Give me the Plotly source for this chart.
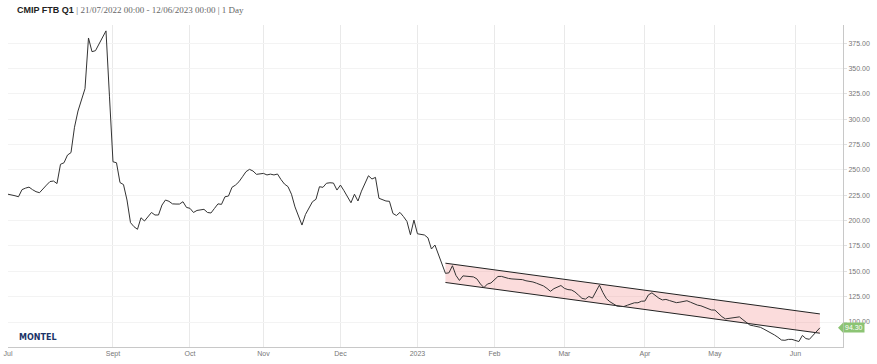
import pandas as pd
import plotly.graph_objects as go

# ---- data -------------------------------------------------------------
start_date = "2022-07-21"
end_date = "2023-06-12"

prices = [
    226, 225.5, 224.5, 223.5, 230.5, 232, 233, 230.5, 228.5, 227.5,
    231.8, 235, 238.5, 239, 236.5, 255.5, 257, 264.6, 267, 292,
    308, 320, 330, 380, 366.5, 367.5, 374, 381, 387, 322,
    258, 257, 237.5, 235.5, 220.3, 198, 194, 191.4, 202.8, 199.6,
    204, 208, 205.5, 205.5, 215.3, 220.3, 219, 216.5, 216.3, 216.3,
    218.6, 213, 212.1, 208, 210, 210.8, 211.1, 208, 207.5, 212,
    216.5, 216, 223.5, 224.2, 232.8, 235, 238.3, 243.2, 248.2, 250.5,
    248.9, 245.6, 245.8, 246.5, 245, 245.8, 245, 245.9, 240.5, 236,
    233.5, 226, 213.5, 204, 195.6, 206, 212.5, 218.6, 221, 233.4,
    232.8, 236.8, 237.3, 237, 230.1, 235, 229.5, 223.5, 217.6, 226,
    219.3, 229, 237, 244.2, 241, 242.6, 222, 220.5, 219.3, 219,
    207, 205, 208.1, 204, 199.2, 186, 200.5, 187, 186.5, 185.8,
    183, 172, 175.9, 167, 158, 148, 148.5, 155.5, 146, 141,
    145.5, 145, 144.3, 144.5, 142.5, 137.5, 134, 137.5, 138.5, 141.5,
    144.9, 145, 143.7, 143, 142.5, 142.4, 142.4, 141.8, 140.7, 140.2,
    139.5, 138.3, 137, 135.6, 133.2, 130.3, 132.9, 134.6, 136, 133.2,
    132, 131.6, 129.7, 126.6, 123.4, 122.6, 125.2, 123.6, 130.5, 136.4,
    129, 123, 120, 117.8, 115.8, 115.4, 115.3, 116.6, 118, 119,
    119, 120.5, 120.7, 126.8, 128.8, 126, 123.5, 121.8, 122.3, 121.2,
    119.8, 119.1, 119.6, 120.3, 121, 119.6, 118, 116.7, 116, 114.6,
    113.2, 111.9, 111.8, 108.3, 105.3, 103.1, 103.5, 104.1, 104.7, 105.1,
    102.3, 99.2, 97, 96.3, 95.6, 94.8, 93, 91.2, 89.5, 87.3,
    85, 82.3, 82, 82.9, 82.9, 82.2, 80.8, 86.8, 83.7, 83,
    86.5, 90.5, 94.3,
]
last_price = 94.30

channel_start = "2023-01-12"
channel_upper = [158, 108]
channel_lower = [139, 89]

tick_dates = ["2022-07-21", "2022-09-01", "2022-10-03", "2022-11-01", "2022-12-01",
              "2023-01-02", "2023-02-01", "2023-03-01", "2023-04-03", "2023-05-01",
              "2023-06-01"]
tick_labels = ["Jul", "Sept", "Oct", "Nov", "Dec", "2023", "Feb", "Mar", "Apr", "May", "Jun"]

y_ticks = [100, 125, 150, 175, 200, 225, 250, 275, 300, 325, 350, 375]

title_main = "CMIP FTB Q1"
title_rest = "21/07/2022 00:00 - 12/06/2023 00:00 | 1 Day"

# ---- figure -----------------------------------------------------------
dates = pd.bdate_range(start_date, end_date)[:len(prices)]
channel_dates = [pd.Timestamp(channel_start), dates[-1]]

fig = go.Figure()

fig.add_trace(go.Scatter(x=channel_dates, y=channel_lower, mode="lines",
                         line=dict(color="#222222", width=1), hoverinfo="skip",
                         showlegend=False))
fig.add_trace(go.Scatter(x=channel_dates, y=channel_upper, mode="lines",
                         line=dict(color="#222222", width=1), fill="tonexty",
                         fillcolor="rgba(240,128,128,0.28)", hoverinfo="skip",
                         showlegend=False))
fig.add_trace(go.Scatter(x=dates, y=prices, mode="lines",
                         line=dict(color="#333333", width=1), showlegend=False))

label_font = dict(family="Liberation Sans, Arial, sans-serif", size=7, color="#777777")

fig.update_xaxes(
    range=["2022-07-21", "2023-06-20 14:24"],
    rangebreaks=[dict(bounds=["sat", "mon"])],
    tickvals=tick_dates, ticktext=tick_labels,
    showgrid=True, gridcolor="#e9e9e9", gridwidth=1,
    showline=True, linecolor="#c8c8c8", linewidth=1,
    ticks="", tickfont=label_font, zeroline=False, automargin=False,
)
fig.update_yaxes(
    side="right", range=[75.4, 392.8],
    tickvals=y_ticks, tickformat=".2f",
    showgrid=True, gridcolor="#f3f3f3", gridwidth=1,
    showline=True, linecolor="#c8c8c8", linewidth=1,
    ticks="outside", ticklen=3, tickcolor="#e0e0e0",
    tickfont=label_font, zeroline=False, automargin=False,
)

fig.add_annotation(
    xref="paper", yref="paper", x=0, y=1, xshift=7, yshift=15,
    xanchor="left", yanchor="middle", showarrow=False,
    text=f"<b>{title_main}</b> <span style='font-family:Liberation Serif, serif; color:#666666'>| {title_rest}</span>",
    font=dict(family="Liberation Sans, Arial, sans-serif", size=9, color="#222222"),
)
fig.add_annotation(
    xref="paper", yref="paper", x=0, y=0, xshift=9, yshift=10,
    xanchor="left", yanchor="middle", showarrow=False,
    text="<b>MONTEL</b>",
    font=dict(family="DejaVu Sans, sans-serif", size=8, color="#1c3468"),
)
# last price flag
fig.add_annotation(
    xref="paper", yref="y", x=1, y=last_price, xshift=0,
    xanchor="left", yanchor="middle", showarrow=False,
    text=f"{last_price:.2f}", bgcolor="#8cc474", borderpad=1,
    font=dict(family="Liberation Sans, Arial, sans-serif", size=7, color="#ffffff"),
)
fig.add_shape(
    type="path", xref="paper", yref="y", xsizemode="pixel", ysizemode="pixel",
    xanchor=1, yanchor=last_price, path="M -5,0 L 0,5 L 0,-5 Z",
    fillcolor="#8cc474", line=dict(width=0),
)

fig.update_layout(
    width=877, height=364,
    margin=dict(l=8, r=34, t=25, b=17),
    paper_bgcolor="white", plot_bgcolor="white",
    showlegend=False,
)

# remove the default page margin so the figure fills the window exactly
fig.write_html("out.html",
               config={"displayModeBar": False},
               post_script="document.body.style.margin='0';document.body.style.padding='0';")
